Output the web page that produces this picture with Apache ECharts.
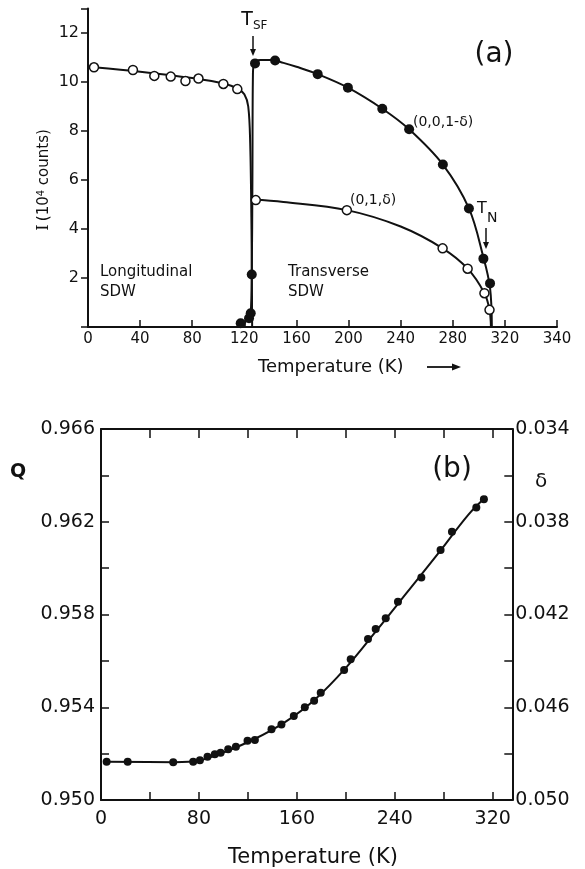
<!DOCTYPE html>
<html>
<head>
<meta charset="utf-8">
<script src="https://cdn.jsdelivr.net/npm/echarts@6/dist/echarts.min.js"></script>
<style>
  html, body { margin: 0; padding: 0; background: #fff; }
  #chart { width: 585px; height: 869px; }
</style>
</head>
<body>
<div id="chart"></div>
<script>
// ---------- (a) intensity of magnetic satellites vs temperature ----------
// longitudinal SDW phase, open circles
const longT = [4.6, 34.5, 50.9, 63.5, 74.8, 84.8, 103.9, 114.6];
const longI = [10.60, 10.49, 10.25, 10.22, 10.04, 10.14, 9.92, 9.71];
// (0,0,1-δ) reflection, filled circles
const c001T = [117.2, 123.6, 124.9, 125.7, 128.2, 143.6, 176.3, 199.5, 225.9, 246.5, 272.4, 292.4, 303.5, 308.6];
const c001I = [0.15, 0.36, 0.56, 2.14, 10.76, 10.88, 10.32, 9.77, 8.91, 8.07, 6.63, 4.84, 2.79, 1.78];
// (0,1,δ) reflection, open circles
const c01T = [128.8, 198.7, 272.2, 291.4, 304.3, 308.2];
const c01I = [5.18, 4.77, 3.21, 2.38, 1.38, 0.70];

// guide curves drawn through the data
const longFitT = [4.6, 40, 80, 105, 115, 120, 123, 124.5, 125.5, 126];
const longFitI = [10.6, 10.42, 10.16, 9.93, 9.72, 9.5, 9.0, 7.5, 4.0, 0];
const c001FitT = [117.2, 121, 123.6, 124.9, 125.7, 126.2, 126.6, 127.5, 132, 140, 150, 160, 176.3, 199.5, 225.9, 246.5, 272.4, 292.4, 303.5, 308.6, 310];
const c001FitI = [0.12, 0.22, 0.36, 0.56, 2.14, 6, 10.3, 10.75, 10.9, 10.9, 10.78, 10.62, 10.32, 9.77, 8.91, 8.07, 6.63, 4.84, 2.85, 1.6, 0];
const c01FitT = [126.2, 150, 198.7, 240, 272.2, 291.4, 304.3, 308.2, 309.3];
const c01FitI = [5.2, 5.1, 4.77, 4.1, 3.21, 2.38, 1.38, 0.7, 0];

const xTicksA = ['0', '40', '80', '120', '160', '200', '240', '280', '320', '340'];
const yTicksA = [2, 4, 6, 8, 10, 12];

// ---------- (b) wave vector Q (and δ = 1 - Q) vs temperature ----------
const qT = [4.6, 21.8, 59, 75.3, 80.8, 87, 93, 97.7, 103.9, 110.2, 119.7, 125.7, 139.3, 147.4, 157.5, 166.5, 174.1, 179.5, 198.6, 204, 218.1, 224.4, 232.6, 242.6, 261.7, 277.4, 286.7, 306.6, 312.8];
const qV = [0.95165, 0.95165, 0.95163, 0.95165, 0.95171, 0.95187, 0.95197, 0.95204, 0.95219, 0.9523, 0.95256, 0.95259, 0.95305, 0.95326, 0.95362, 0.954, 0.95428, 0.95463, 0.95561, 0.95607, 0.95694, 0.95737, 0.95784, 0.95855, 0.9596, 0.96078, 0.96157, 0.96261, 0.96297];
const qFitT = [4.6, 60, 80, 100, 125, 150, 175, 200, 225, 250, 275, 300, 315];
const qFitV = [0.95165, 0.95163, 0.9517, 0.95205, 0.95262, 0.95335, 0.95435, 0.9557, 0.9573, 0.95895, 0.9606, 0.9623, 0.9631];

const qTicks = ['0.950', '0.954', '0.958', '0.962', '0.966'];
const dTicks = ['0.034', '0.038', '0.042', '0.046', '0.050'];
const xTicksB = ['0', '80', '160', '240', '320'];

const FONT = 'DejaVu Sans';
const INK = '#111';
const pairs = (xs, ys) => xs.map((x, i) => [x, ys[i]]);
const near = (v, step, base) => Math.abs((v - base) / step - Math.round((v - base) / step)) < 1e-6;

const fitLine = (name, xs, ys, xi, yi) => ({
  name, type: 'line', xAxisIndex: xi, yAxisIndex: yi,
  data: pairs(xs, ys), showSymbol: false, smooth: 0.35,
  lineStyle: { color: INK, width: 2 }, silent: true, z: 2
});
const dots = (name, xs, ys, xi, yi, open, size) => ({
  name, type: 'scatter', xAxisIndex: xi, yAxisIndex: yi,
  data: pairs(xs, ys), symbol: 'circle', symbolSize: size,
  itemStyle: open ? { color: '#fff', borderColor: INK, borderWidth: 1.5, opacity: 1 } : { color: INK, opacity: 1 },
  z: 5
});

const axisLine = { show: true, onZero: false, lineStyle: { color: INK, width: 2 } };
const tickStyle = { color: INK, width: 1.5 };

// arrow pointing down: shaft plus head
function downArrow(x, y0, y1) {
  return [
    { type: 'line', shape: { x1: x, y1: y0, x2: x, y2: y1 - 5 }, style: { stroke: INK, lineWidth: 1.5 } },
    { type: 'polygon', shape: { points: [[x - 3, y1 - 7], [x + 3, y1 - 7], [x, y1]] }, style: { fill: INK } }
  ];
}
function txt(x, y, s, size, align, weight) {
  return {
    type: 'text', x, y,
    style: { text: s, fontFamily: FONT, fontSize: size, fontWeight: weight || 'normal', fill: INK, textAlign: align || 'left', textVerticalAlign: 'middle' }
  };
}

const option = {
  backgroundColor: '#fff',
  animation: false,
  grid: [
    { left: 88, top: 8.5, width: 469, height: 318.5 },
    { left: 101, top: 429, width: 411.3, height: 371 }
  ],
  xAxis: [
    {
      gridIndex: 0, type: 'value', min: 0, max: 360, interval: 40,
      axisLine, splitLine: { show: false },
      axisTick: { inside: true, length: 7, lineStyle: tickStyle },
      axisLabel: { margin: 5, fontFamily: FONT, fontSize: 15, color: INK,
        formatter: v => xTicksA[Math.round(v / 40)] || '' }
    },
    {
      gridIndex: 1, type: 'value', min: 0, max: 336, interval: 40, position: 'bottom',
      axisLine, splitLine: { show: false },
      axisTick: { inside: true, length: 8, lineStyle: tickStyle },
      axisLabel: { margin: 10, fontFamily: FONT, fontSize: 19, color: INK,
        formatter: v => (near(v, 80, 0) && v <= 320) ? xTicksB[Math.round(v / 80)] : '' }
    },
    {
      gridIndex: 1, type: 'value', min: 0, max: 336, interval: 40, position: 'top',
      axisLine, splitLine: { show: false },
      axisTick: { inside: true, length: 9, lineStyle: tickStyle },
      axisLabel: { show: false }
    }
  ],
  yAxis: [
    {
      gridIndex: 0, type: 'value', min: 0, max: 13, interval: 2,
      axisLine, splitLine: { show: false },
      axisTick: { inside: false, length: 7, lineStyle: tickStyle },
      axisLabel: { margin: 9, fontFamily: FONT, fontSize: 16, color: INK,
        formatter: v => yTicksA.includes(v) ? String(v) : '' }
    },
    {
      gridIndex: 1, type: 'value', min: 0.950, max: 0.966, interval: 0.002, position: 'left',
      axisLine, splitLine: { show: false },
      axisTick: { inside: true, length: 8, lineStyle: tickStyle },
      axisLabel: { margin: 6, fontFamily: FONT, fontSize: 19, color: INK,
        formatter: v => near(v, 0.004, 0.950) ? qTicks[Math.round((v - 0.950) / 0.004)] : '' }
    },
    {
      gridIndex: 1, type: 'value', min: 0.034, max: 0.050, interval: 0.002, position: 'right', inverse: true,
      axisLine, splitLine: { show: false },
      axisTick: { inside: true, length: 8, lineStyle: tickStyle },
      axisLabel: { margin: 3, fontFamily: FONT, fontSize: 19, color: INK,
        formatter: v => near(v, 0.004, 0.034) ? dTicks[Math.round((v - 0.034) / 0.004)] : '' }
    }
  ],
  series: [
    fitLine('longitudinal fit', longFitT, longFitI, 0, 0),
    fitLine('(0,0,1-δ) fit', c001FitT, c001FitI, 0, 0),
    fitLine('(0,1,δ) fit', c01FitT, c01FitI, 0, 0),
    dots('longitudinal', longT, longI, 0, 0, true, 9),
    dots('(0,0,1-δ)', c001T, c001I, 0, 0, false, 10),
    dots('(0,1,δ)', c01T, c01I, 0, 0, true, 9),
    fitLine('Q fit', qFitT, qFitV, 1, 1),
    dots('Q', qT, qV, 1, 1, false, 8)
  ],
  graphic: [
    // panel (a) annotations
    txt(247, 20, 'T', 19, 'center'),
    txt(253, 26, 'SF', 12, 'left'),
    ...downArrow(253, 36, 56),
    txt(494, 55, '(a)', 28, 'center'),
    txt(413, 122, '(0,0,1-δ)', 14, 'left'),
    txt(350, 200, '(0,1,δ)', 14, 'left'),
    txt(482, 209, 'T', 16, 'center'),
    txt(487, 218, 'N', 14, 'left'),
    ...downArrow(486, 228, 249),
    txt(100, 272, 'Longitudinal', 15, 'left'),
    txt(100, 292, 'SDW', 15, 'left'),
    txt(288, 272, 'Transverse', 15, 'left'),
    txt(288, 292, 'SDW', 15, 'left'),
    {
      type: 'text', x: 44, y: 180, rotation: Math.PI / 2,
      style: {
        text: '{i|I} {n|(10}{s|4}{n| counts)}',
        fill: INK, textAlign: 'center', textVerticalAlign: 'middle',
        rich: {
          i: { fontFamily: 'DejaVu Serif', fontSize: 16, fill: INK },
          n: { fontFamily: FONT, fontSize: 15, fill: INK },
          s: { fontFamily: FONT, fontSize: 10, fill: INK, verticalAlign: 'top' }
        }
      }
    },
    txt(258, 367, 'Temperature (K)', 18, 'left'),
    { type: 'line', shape: { x1: 427, y1: 367, x2: 455, y2: 367 }, style: { stroke: INK, lineWidth: 1.8 } },
    { type: 'polygon', shape: { points: [[452, 363.5], [452, 370.5], [461, 367]] }, style: { fill: INK } },
    // panel (b) annotations
    txt(18, 472, 'Q', 19, 'center', 'bold'),
    txt(541, 482, 'δ', 20, 'center'),
    txt(452, 470, '(b)', 28, 'center'),
    txt(313, 858, 'Temperature (K)', 21, 'center')
  ]
};

const chart = echarts.init(document.getElementById('chart'));
chart.setOption(option);
</script>
</body>
</html>
